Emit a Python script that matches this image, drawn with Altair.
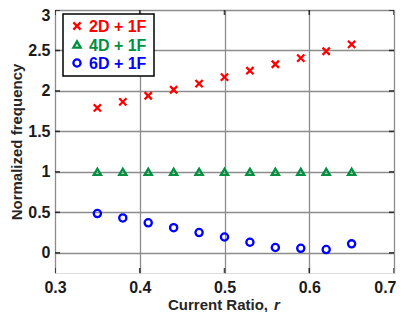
import altair as alt
import pandas as pd

# ---- data ----
r_vals = [0.35, 0.38, 0.41, 0.44, 0.47, 0.50, 0.53, 0.56, 0.59, 0.62, 0.65]
f_2d = [1.79, 1.865, 1.94, 2.015, 2.09, 2.17, 2.25, 2.33, 2.405, 2.49, 2.575]
f_4d = [1.0, 1.0, 1.0, 1.0, 1.0, 1.0, 1.0, 1.0, 1.0, 1.0, 1.0]
f_6d = [0.485, 0.43, 0.37, 0.31, 0.25, 0.195, 0.13, 0.065, 0.055, 0.04, 0.11]
series_names = ["2D + 1F", "4D + 1F", "6D + 1F"]
series_colors = ["#ff0000", "#009040", "#0000ff"]
x_ticks = [0.3, 0.4, 0.5, 0.6, 0.7]
y_ticks = [0, 0.5, 1, 1.5, 2, 2.5, 3]

W, H = 339, 263
FONT = "Liberation Sans"

rows = []
for name, vals in zip(series_names, [f_2d, f_4d, f_6d]):
    for r, v in zip(r_vals, vals):
        rows.append({"r": r, "f": v, "series": name})
df = pd.DataFrame(rows)

xscale = alt.Scale(domain=[0.3, 0.7], nice=False, zero=False)
yscale = alt.Scale(domain=[-0.25, 3], nice=False, zero=False)

xaxis = alt.Axis(values=x_ticks, format="~g", title=None, ticks=False, domain=False,
                 labelFont=FONT, labelFontSize=16, labelFontWeight="bold", labelColor="#1a1a1a",
                 labelPadding=6, gridColor="#8c8c8c", gridWidth=1.3, labelFlush=False,
                 labelAlign={"condition": {"test": "datum.value > 0.65", "value": "right"}, "value": "center"},
                 labelOffset={"condition": {"test": "datum.value > 0.65", "value": 2}, "value": 0})
yaxis = alt.Axis(values=y_ticks, format="~g", title="Normalized frequency", ticks=False, domain=False,
                 labelFont=FONT, labelFontSize=16, labelFontWeight="bold", labelColor="#1a1a1a",
                 labelPadding=5, gridColor="#8c8c8c", gridWidth=1.3, labelFlush=False,
                 labelOffset={"condition": {"test": "datum.value > 2.9", "value": 5}, "value": 0},
                 titleFont=FONT, titleFontSize=15, titleFontWeight="bold", titleColor="#262626",
                 titlePadding=3)

X_CROSS = "M-1,-1L1,1M-1,1L1,-1"
shape_range = [X_CROSS, "triangle-up", "circle"]

base = alt.Chart(df)
pts = base.mark_point(filled=False, strokeWidth=2.3, size=52, opacity=1).encode(
    x=alt.X("r:Q", scale=xscale, axis=xaxis),
    y=alt.Y("f:Q", scale=yscale, axis=yaxis),
    color=alt.Color("series:N", scale=alt.Scale(domain=series_names, range=series_colors), legend=None),
    shape=alt.Shape("series:N", scale=alt.Scale(domain=series_names, range=shape_range), legend=None),
)

# inward ticks on frame
ytick_df = pd.DataFrame({"v": y_ticks})
xtick_df = pd.DataFrame({"v": x_ticks})
TK = dict(clip=True, color="black", thickness=1.6, size=10)
ticks_l = alt.Chart(ytick_df).mark_tick(orient="horizontal", **TK).encode(
    y=alt.Y("v:Q", scale=yscale), x=alt.value(0))
ticks_r = alt.Chart(ytick_df).mark_tick(orient="horizontal", **TK).encode(
    y=alt.Y("v:Q", scale=yscale), x=alt.value(W))
ticks_b = alt.Chart(xtick_df).mark_tick(orient="vertical", **TK).encode(
    x=alt.X("v:Q", scale=xscale), y=alt.value(H))
ticks_t = alt.Chart(xtick_df).mark_tick(orient="vertical", **TK).encode(
    x=alt.X("v:Q", scale=xscale), y=alt.value(0))

# x-axis title with italic r
one = pd.DataFrame({"a": [0]})
xt1 = alt.Chart(one).mark_text(text="Current Ratio,", font=FONT, fontSize=15, fontWeight="bold",
                               color="#262626", align="right", baseline="alphabetic").encode(
    x=alt.value(213), y=alt.value(300))
xt2 = alt.Chart(one).mark_text(text="r", font=FONT, fontSize=15, fontWeight="bold", fontStyle="italic",
                               color="#262626", align="left", baseline="alphabetic").encode(
    x=alt.value(219), y=alt.value(300))

# legend box
leg_box = alt.Chart(one).mark_rect(fill="white", stroke="black", strokeWidth=1.5).encode(
    x=alt.value(8), x2=alt.value(99), y=alt.value(4), y2=alt.value(66))
legend_layers = [leg_box]
row_y = [16, 34.5, 53]
for name, col, shp, yy in zip(series_names, series_colors, shape_range, row_y):
    legend_layers.append(alt.Chart(one).mark_point(filled=False, strokeWidth=2.3, size=52, shape=shp,
                                                   color=col, opacity=1).encode(
        x=alt.value(22), y=alt.value(yy)))
    legend_layers.append(alt.Chart(one).mark_text(text=name, font=FONT, fontSize=16, fontWeight="bold",
                                                  color=col, align="left", baseline="middle").encode(
        x=alt.value(34), y=alt.value(yy + 1)))

chart = alt.layer(pts, ticks_l, ticks_r, ticks_b, ticks_t, xt1, xt2, *legend_layers).properties(
    width=W, height=H,
    autosize=alt.AutoSizeParams(type="none"),
    padding={"left": 47, "top": 2, "right": 2, "bottom": 39},
).configure_view(stroke="black", strokeWidth=2.2).configure(background="white")

chart.save("out.html", embed_options={"renderer": "svg", "actions": False})
